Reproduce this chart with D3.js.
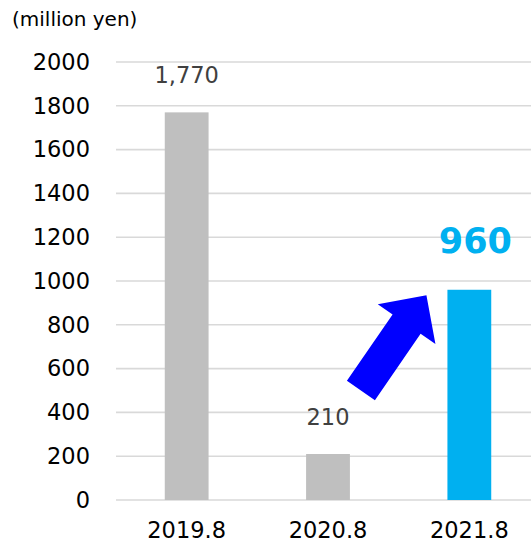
<!DOCTYPE html>
<html>
<head>
<meta charset="utf-8">
<script src="https://cdn.jsdelivr.net/npm/d3@7"></script>
<style>
    body { margin: 0; background: #fff; }
    svg { display: block; font-family: "DejaVu Sans", Verdana, sans-serif; }
</style>
</head>
<body>
<div id="chart"></div>
<script>
const categories = ['2019.8', '2020.8', '2021.8'];
const values = [1770, 210, 960];
const valueLabels = ['1,770', '210', '960'];
const yTicks = [0, 200, 400, 600, 800, 1000, 1200, 1400, 1600, 1800, 2000];
const unitLabel = '(million yen)';

const width = 531;
const height = 548;
const margin = { top: 62, right: 0, bottom: 48, left: 116 };

const svg = d3.select('#chart')
    .append('svg')
    .attr('width', width)
    .attr('height', height);

const xScale = d3.scaleBand()
    .domain(categories)
    .range([margin.left, 540])
    .paddingInner(0.69)
    .paddingOuter(0.345);

const yScale = d3.scaleLinear()
    .domain([0, 2000])
    .range([height - margin.bottom, margin.top]);

// gridlines
svg.append('g')
    .selectAll('line')
    .data(yTicks)
    .enter().append('line')
    .attr('x1', margin.left)
    .attr('x2', width)
    .attr('y1', d => yScale(d))
    .attr('y2', d => yScale(d))
    .attr('stroke', '#d9d9d9')
    .attr('stroke-width', 1.6);

// y axis labels
const yAxis = svg.append('g')
    .attr('transform', `translate(90, 0)`)
    .call(d3.axisLeft(yScale).tickValues(yTicks).tickSize(0).tickPadding(0).tickFormat(d3.format('d')));
yAxis.select('.domain').remove();
yAxis.selectAll('text')
    .attr('font-family', '"DejaVu Sans", Verdana, sans-serif')
    .attr('font-size', 22.5)
    .attr('fill', '#000');

// x axis labels
const xAxis = svg.append('g')
    .attr('transform', `translate(0, ${height - margin.bottom})`)
    .call(d3.axisBottom(xScale).tickSize(0).tickPadding(22));
xAxis.select('.domain').remove();
xAxis.selectAll('text')
    .attr('font-family', '"DejaVu Sans", Verdana, sans-serif')
    .attr('font-size', 22.5)
    .attr('fill', '#000');

// bars
svg.selectAll('.bar')
    .data(categories)
    .enter().append('rect')
    .attr('class', 'bar')
    .attr('x', d => xScale(d))
    .attr('width', xScale.bandwidth())
    .attr('y', (d, i) => yScale(values[i]))
    .attr('height', (d, i) => yScale(0) - yScale(values[i]))
    .attr('fill', (d, i) => i === 2 ? '#00b0f0' : '#bfbfbf');

// value labels
svg.selectAll('.value')
    .data(categories)
    .enter().append('text')
    .attr('class', 'value')
    .attr('x', (d, i) => xScale(d) + xScale.bandwidth() / 2 + (i === 2 ? 6 : 0))
    .attr('y', (d, i) => yScale(values[i]) - (i === 2 ? 37 : 29))
    .attr('text-anchor', 'middle')
    .attr('font-size', (d, i) => i === 2 ? 35 : 22.5)
    .attr('font-weight', (d, i) => i === 2 ? 'bold' : 'normal')
    .attr('fill', (d, i) => i === 2 ? '#00b0f0' : '#404040')
    .text((d, i) => valueLabels[i]);

// unit label
svg.append('text')
    .attr('x', 12)
    .attr('y', 26)
    .attr('font-size', 20)
    .attr('fill', '#000')
    .text(unitLabel);

// growth arrow, from between 2020.8 and 2021.8 bars up toward the 2021.8 bar
const tail = [xScale(categories[1]) + xScale.bandwidth() + 11, yScale(500)];
const tip = [xScale(categories[2]) - 21, yScale(935)];
const shaftW = 34, headW = 70, headL = 35;
const dx = tip[0] - tail[0], dy = tip[1] - tail[1];
const len = Math.hypot(dx, dy);
const ux = dx / len, uy = dy / len;
const px = -uy, py = ux;
const base = [tip[0] - ux * headL, tip[1] - uy * headL];
const pt = (p, s) => [p[0] + px * s, p[1] + py * s];
const arrowPts = [
    pt(tail, -shaftW / 2), pt(base, -shaftW / 2), pt(base, -headW / 2),
    tip,
    pt(base, headW / 2), pt(base, shaftW / 2), pt(tail, shaftW / 2)
];
svg.append('polygon')
    .attr('points', arrowPts.map(p => p.join(',')).join(' '))
    .attr('fill', '#0000ff');
</script>
</body>
</html>
